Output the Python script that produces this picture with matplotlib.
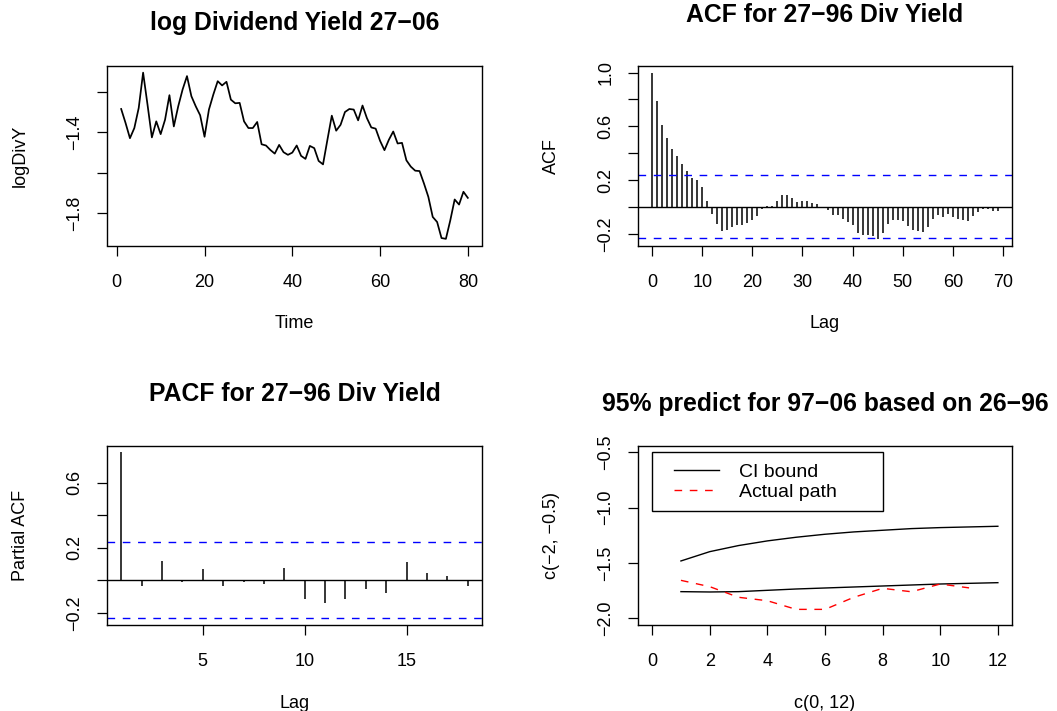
import numpy as np
import matplotlib
matplotlib.use("Agg")
import matplotlib.pyplot as plt
from matplotlib.legend_handler import HandlerLine2D

# ---------------- data ----------------
time_idx = np.arange(1, 81)
log_divy = [-1.286, -1.355, -1.430, -1.380, -1.281, -1.107, -1.264, -1.426, -1.347, -1.410,
            -1.339, -1.218, -1.372, -1.273, -1.190, -1.124, -1.223, -1.273, -1.317, -1.423,
            -1.289, -1.215, -1.149, -1.170, -1.152, -1.240, -1.258, -1.256, -1.347, -1.380,
            -1.380, -1.350, -1.460, -1.466, -1.488, -1.506, -1.463, -1.499, -1.512, -1.501,
            -1.466, -1.517, -1.532, -1.468, -1.479, -1.542, -1.559, -1.438, -1.319, -1.393,
            -1.364, -1.301, -1.286, -1.289, -1.342, -1.269, -1.331, -1.377, -1.383, -1.443,
            -1.489, -1.438, -1.397, -1.456, -1.453, -1.539, -1.570, -1.590, -1.592, -1.653,
            -1.719, -1.818, -1.843, -1.922, -1.926, -1.835, -1.732, -1.757, -1.694, -1.724]

acf_lags = np.arange(0, 70)
acf_vals = [1.0, 0.79, 0.61, 0.515, 0.43, 0.38, 0.32, 0.265, 0.215, 0.20,
            0.145, 0.045, -0.055, -0.128, -0.18, -0.175, -0.15, -0.138, -0.138, -0.12,
            -0.095, -0.07, -0.015, 0.005, 0.01, 0.043, 0.085, 0.085, 0.063, 0.038,
            0.045, 0.045, 0.028, 0.018, 0.002, -0.022, -0.06, -0.06, -0.087, -0.113,
            -0.133, -0.194, -0.208, -0.207, -0.22, -0.238, -0.197, -0.124, -0.10, -0.095,
            -0.105, -0.14, -0.172, -0.178, -0.184, -0.147, -0.092, -0.062, -0.074, -0.056,
            -0.078, -0.092, -0.10, -0.105, -0.07, -0.035, -0.013, -0.012, -0.028, -0.028]

pacf_lags = np.arange(1, 19)
pacf_vals = [0.787, -0.035, 0.121, -0.010, 0.066, -0.033, -0.010, -0.023, 0.076,
             -0.115, -0.140, -0.113, -0.055, -0.080, 0.109, 0.043, 0.025, -0.033]

n_obs = 70
conf_bound = 1.96 / np.sqrt(n_obs)

horizon = np.arange(1, 13)
ci_upper = [-1.482, -1.398, -1.343, -1.301, -1.268, -1.241, -1.220, -1.205, -1.190, -1.181, -1.175, -1.169]
ci_lower = [-1.759, -1.762, -1.759, -1.747, -1.735, -1.726, -1.717, -1.708, -1.699, -1.690, -1.684, -1.678]
actual_x = np.arange(1, 12)
actual_path = [-1.657, -1.714, -1.810, -1.841, -1.919, -1.919, -1.810, -1.729, -1.760, -1.690, -1.725]

titles = ["log Dividend Yield 27\u221206", "ACF for 27\u221296 Div Yield",
          "PACF for 27\u221296 Div Yield", "95% predict for 97\u221206 based on 26\u221296"]

# ---------------- style ----------------
plt.rcParams['font.family'] = ['Liberation Sans', 'DejaVu Sans']
TICK_FS = 13
LAB_FS = 13
TITLE_FS = 17.8
LEG_FS = 14

W, H = 1057, 711
fig = plt.figure(figsize=(W / 100, H / 100), dpi=100)


def add_axes(l, t, r, b):
    return fig.add_axes([l / W, 1 - b / H, (r - l) / W, (b - t) / H])


def r_lims(vals):
    lo, hi = np.min(vals), np.max(vals)
    d = (hi - lo) * 0.04
    return lo - d, hi + d


def fmt(v):
    s = f"{v:.1f}"
    return s.replace("-", "\u2212")


def style(ax, xticks, yticks, ylabeled):
    ax.set_xticks(xticks)
    ax.set_xticklabels([str(t) for t in xticks])
    ax.set_yticks(yticks)
    ax.set_yticklabels([fmt(t) if t in ylabeled else "" for t in yticks])
    ax.tick_params(direction='out', length=7.2, width=0.9, labelsize=TICK_FS, color='black')
    ax.tick_params(axis='x', pad=13)
    ax.tick_params(axis='y', pad=10, labelrotation=90)
    for lbl in ax.get_yticklabels():
        lbl.set_va('center')
    for s in ax.spines.values():
        s.set_linewidth(1.0)
        s.set_color('black')


def labels(ax, xl, yl, box_h, box_w):
    ax.set_xlabel(xl, fontsize=LAB_FS)
    ax.set_ylabel(yl, fontsize=LAB_FS)
    ax.xaxis.label.set_va('center')
    ax.yaxis.label.set_va('center')
    ax.xaxis.set_label_coords(0.5, -78 / box_h)
    ax.yaxis.set_label_coords(-87 / box_w, 0.5)


BW = 374.4
BH = 179.5

# ---- panel 1: time series ----
ax1 = add_axes(107.3, 66, 481.7, 245.5)
ax1.plot(time_idx, log_divy, color='black', lw=1.25)
ax1.set_xlim(*r_lims(time_idx))
ax1.set_ylim(*r_lims(log_divy))
style(ax1, [0, 20, 40, 60, 80], [-1.8, -1.6, -1.4, -1.2], [-1.8, -1.4])
labels(ax1, "Time", "logDivY", BH, BW)
ax1.set_title(titles[0], fontsize=TITLE_FS, fontweight='bold', pad=26)

# ---- panel 2: ACF ----
ax2 = add_axes(638.3, 66, 1011.7, 245.5)
ax2.vlines(acf_lags, 0, acf_vals, color='black', lw=1.1)
ax2.axhline(0, color='black', lw=1.0)
for c in (conf_bound, -conf_bound):
    ax2.axhline(c, color='blue', lw=1.0, dashes=(5.5, 5.5))
ax2.set_xlim(*r_lims(acf_lags))
ax2.set_ylim(*r_lims(list(acf_vals) + [conf_bound, -conf_bound]))
style(ax2, [0, 10, 20, 30, 40, 50, 60, 70], [-0.2, 0.0, 0.2, 0.4, 0.6, 0.8, 1.0], [-0.2, 0.2, 0.6, 1.0])
labels(ax2, "Lag", "ACF", BH, BW)
ax2.set_title(titles[1], fontsize=TITLE_FS, fontweight='bold', pad=32)

# ---- panel 3: PACF ----
ax3 = add_axes(107.3, 445.5, 481.7, 625)
ax3.vlines(pacf_lags, 0, pacf_vals, color='black', lw=1.1)
ax3.axhline(0, color='black', lw=1.0)
for c in (conf_bound, -conf_bound):
    ax3.axhline(c, color='blue', lw=1.0, dashes=(5.5, 5.5))
ax3.set_xlim(*r_lims(pacf_lags))
ax3.set_ylim(*r_lims(list(pacf_vals) + [conf_bound, -conf_bound]))
style(ax3, [5, 10, 15], [-0.2, 0.0, 0.2, 0.4, 0.6], [-0.2, 0.2, 0.6])
labels(ax3, "Lag", "Partial ACF", BH, BW)
ax3.set_title(titles[2], fontsize=TITLE_FS, fontweight='bold', pad=32)

# ---- panel 4: prediction ----
ax4 = add_axes(638.3, 445.5, 1011.7, 625)
l_ci, = ax4.plot(horizon, ci_upper, color='black', lw=1.0, label="CI bound")
ax4.plot(horizon, ci_lower, color='black', lw=1.0)
l_act, = ax4.plot(actual_x, actual_path, color='red', lw=1.0, dashes=(5.5, 5.5), label="Actual path")
ax4.set_xlim(*r_lims([0, 12]))
ax4.set_ylim(*r_lims([-2, -0.5]))
style(ax4, [0, 2, 4, 6, 8, 10, 12], [-2.0, -1.5, -1.0, -0.5], [-2.0, -1.5, -1.0, -0.5])
labels(ax4, "c(0, 12)", "c(\u22122, \u22120.5)", BH, BW)
ax4.set_title(titles[3], fontsize=TITLE_FS, fontweight='bold', pad=25)

fs_px = LEG_FS * 100 / 72
bp_px = 10.75
shift = 11.25 / fs_px
hmap = {l_ci: HandlerLine2D(xpad=shift), l_act: HandlerLine2D(xpad=shift)}
leg = ax4.legend(handles=[l_ci, l_act], handler_map=hmap,
                 loc='upper left', bbox_to_anchor=(0.0, -0.5, 8.02, 0.0), bbox_transform=ax4.transData,
                 mode='expand', borderaxespad=0, fancybox=False, edgecolor='black', framealpha=1,
                 fontsize=LEG_FS, handlelength=56.25 / fs_px, handletextpad=20.0 / fs_px,
                 labelspacing=0.13, borderpad=bp_px / fs_px)
leg.get_frame().set_linewidth(1.0)

fig.savefig("out.png", dpi=100)
